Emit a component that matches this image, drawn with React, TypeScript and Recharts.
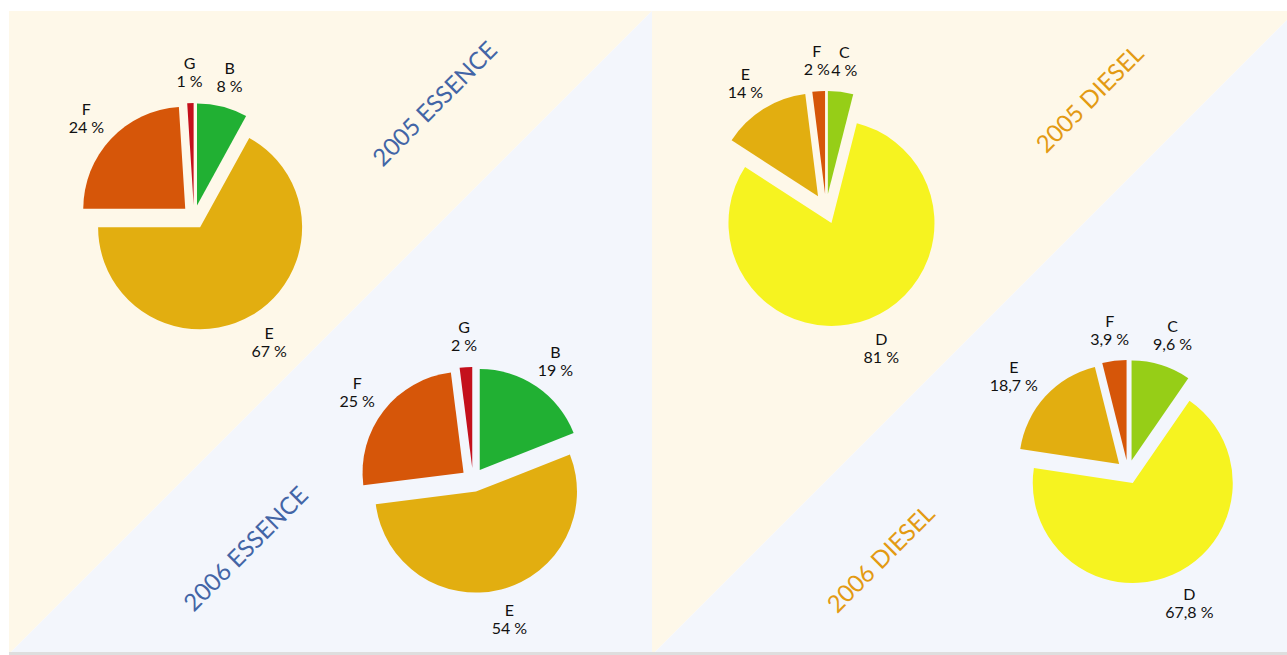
import { PieChart, Pie, Cell, Sector } from 'recharts';

const RAD = Math.PI / 180;
const FONT = "Lato, 'Open Sans', sans-serif";

// share of each energy class, clockwise from 12 o'clock
const essence2005Names = ['B', 'E', 'F', 'G'];
const essence2005Values = [8, 67, 24, 1];
const essence2006Names = ['B', 'E', 'F', 'G'];
const essence2006Values = [19, 54, 25, 2];
const diesel2005Names = ['C', 'D', 'E', 'F'];
const diesel2005Values = [4, 81, 14, 2];
const diesel2006Names = ['C', 'D', 'E', 'F'];
const diesel2006Values = [9.6, 67.8, 18.7, 3.9];

const classColors: Record<string, string> = {
  B: '#21b033',
  C: '#96ce17',
  D: '#f6f320',
  E: '#e2ae10',
  F: '#d65609',
  G: '#c4101c',
};

const fmt = (v: number) => `${String(v).replace('.', ',')}\u202F%`;
const toRows = (names: string[], values: number[]) => names.map((name, i) => ({ name, value: values[i] }));

// every slice pulled out from the centre along its mid angle
const explodedShape = (offset: number) => (props: any) => {
  const { cx, cy, midAngle, innerRadius, outerRadius, startAngle, endAngle, fill } = props;
  const dx = offset * Math.cos(-midAngle * RAD);
  const dy = offset * Math.sin(-midAngle * RAD);
  return (
    <Sector
      cx={cx + dx}
      cy={cy + dy}
      innerRadius={innerRadius}
      outerRadius={outerRadius}
      startAngle={startAngle}
      endAngle={endAngle}
      fill={fill}
      stroke="none"
    />
  );
};

const makeLabel = (offset: number) => (props: any) => {
  const { cx, cy, midAngle, outerRadius, value } = props;
  const name = props.name ?? props.payload?.name;
  const ux = Math.cos(-midAngle * RAD);
  const uy = Math.sin(-midAngle * RAD);
  const text = fmt(value);
  const hw = text.length * 4.4;
  const ra = outerRadius + offset + 16;
  const x = cx + ra * ux + hw * ux;
  const y = cy + ra * uy + 15 * uy;
  return (
    <text x={x} y={y} textAnchor="middle" fontFamily={FONT} fontSize={16} fill="#111">
      <tspan x={x} dy={-3}>{name}</tspan>
      <tspan x={x} dy={18}>{text}</tspan>
    </text>
  );
};

const pies = [
  { id: 'e05', names: essence2005Names, values: essence2005Values, cx: 194, cy: 217, r: 102, off: 12 },
  { id: 'e06', names: essence2006Names, values: essence2006Values, cx: 473, cy: 480, r: 101, off: 12 },
  { id: 'd05', names: diesel2005Names, values: diesel2005Values, cx: 826, cy: 209, r: 103, off: 15 },
  { id: 'd06', names: diesel2006Names, values: diesel2006Values, cx: 1128, cy: 472, r: 100, off: 12 },
];

const titles = [
  { text: '2005 ESSENCE', x: 434, y: 103, color: '#4365a6' },
  { text: '2006 ESSENCE', x: 245, y: 548, color: '#4365a6' },
  { text: '2005 DIESEL', x: 1089, y: 98, color: '#e39a12' },
  { text: '2006 DIESEL', x: 880, y: 558, color: '#e39a12' },
];

const CREAM = '#fef8e9';
const BLUE = '#f3f6fc';

export default function App() {
  return (
    <div style={{ position: 'absolute', left: 0, top: 0, width: 1287, height: 655, background: '#fff' }}>
      <svg width={1287} height={655} style={{ position: 'absolute', left: 0, top: 0 }}>
        <polygon points="9,11 652,11 11,652 9,652" fill={CREAM} />
        <polygon points="652,11 652,652 11,652" fill={BLUE} />
        <polygon points="652,11 1287,11 1287,20 655,652 652,652" fill={CREAM} />
        <polygon points="1287,20 1287,652 655,652" fill={BLUE} />
        <rect x={9} y={652} width={1278} height={3} fill="#dedede" />
        {titles.map((t) => (
          <text
            key={t.text}
            x={t.x}
            y={t.y}
            textAnchor="middle"
            dominantBaseline="central"
            fontFamily={FONT}
            fontSize={24}
            fill={t.color}
            transform={`rotate(-45 ${t.x} ${t.y})`}
          >
            {t.text}
          </text>
        ))}
      </svg>
      <div style={{ position: 'absolute', left: 0, top: 0 }}>
        <PieChart width={1287} height={655} margin={{ top: 0, right: 0, bottom: 0, left: 0 }}>
          {pies.map((p) => (
            <Pie
              key={p.id}
              data={toRows(p.names, p.values)}
              dataKey="value"
              nameKey="name"
              cx={p.cx}
              cy={p.cy}
              outerRadius={p.r}
              startAngle={90}
              endAngle={-270}
              stroke="none"
              shape={explodedShape(p.off)}
              label={makeLabel(p.off)}
              labelLine={false}
              isAnimationActive={false}
            >
              {p.names.map((n) => (
                <Cell key={n} fill={classColors[n]} />
              ))}
            </Pie>
          ))}
        </PieChart>
      </div>
    </div>
  );
}
